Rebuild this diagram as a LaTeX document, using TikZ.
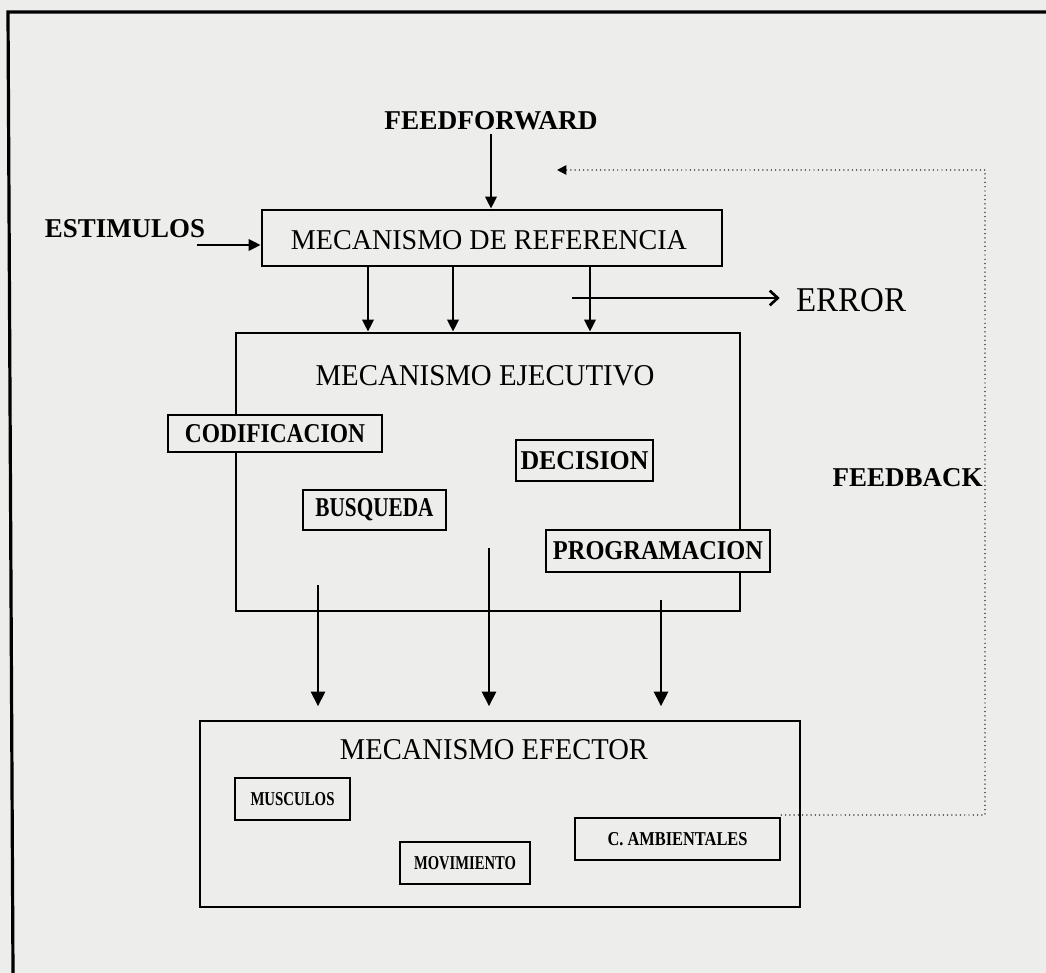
\documentclass[tikz,border=0pt]{standalone}
\usepackage{fontspec}
\setmainfont{Liberation Serif}
\usetikzlibrary{arrows.meta}
\newlength\px
\setlength\px{0.75pt}
% label squeezed to a given width and cap height (in px units)
\newcommand\lbl[3]{\resizebox{#1\px}{#2\px}{#3}}
\definecolor{paper}{RGB}{237,237,235}
\begin{document}
\begin{tikzpicture}[x=0.75pt,y=-0.75pt,
  box/.style={draw, line width=2.1pt, inner sep=0pt, fill=paper},
  sbox/.style={draw, line width=1.9pt, inner sep=0pt, fill=paper},
  txt/.style={inner sep=0pt},
  arr/.style={line width=2pt, -{Triangle[length=9pt,width=8.5pt]}},
  bigarr/.style={line width=2pt, -{Triangle[length=11pt,width=10.5pt]}},
  fb/.style={line width=1.1pt, line cap=round, dash pattern=on 0pt off 3.2pt,
             -{Triangle[length=7pt,width=7pt]}}]
% paper and page frame
\fill[paper] (0,0) rectangle (1046,973);
\useasboundingbox (0,0) rectangle (1046,973);
\draw[line width=2.4pt] (1046,12) -- (8,12) -- (13,973);

% reference stage
\node[box, minimum width=460*0.75pt, minimum height=56*0.75pt] (ref) at (492,238) {};
\node[txt] (reft) at (489,240) {\lbl{396}{19}{MECANISMO DE REFERENCIA}};
\node[txt] (ff) at (491,121) {\lbl{213}{18}{\bfseries FEEDFORWARD}};
\node[txt] (est) at (125,229) {\lbl{160}{18}{\bfseries ESTIMULOS}};
\coordinate (estin) at (197,245);
\draw[arr] (ff.south) ++(0,4) -- (ref.north -| ff.south);
\draw[arr] (estin) -- (ref.west |- estin);

% executive stage
\node[box, minimum width=504*0.75pt, minimum height=278*0.75pt] (ejec) at (488,472) {};
\node[txt] (eject) at (485,376) {\lbl{339}{20}{MECANISMO EJECUTIVO}};
\node[sbox, minimum width=214*0.75pt, minimum height=37*0.75pt] (cod) at (275,433.5) {\lbl{180}{18}{\bfseries CODIFICACION}};
\node[sbox, minimum width=137*0.75pt, minimum height=41*0.75pt] (dec) at (584.5,460.5) {\lbl{128}{18}{\bfseries DECISION}};
\node[sbox, minimum width=143*0.75pt, minimum height=40*0.75pt] (bus) at (374.5,510) {\lbl{118}{18}{\bfseries BUSQUEDA}};
\node[sbox, minimum width=224*0.75pt, minimum height=42*0.75pt] (prog) at (658,551) {\lbl{210}{18}{\bfseries PROGRAMACION}};

\coordinate (r1) at (368,0);
\coordinate (r2) at (453,0);
\coordinate (r3) at (590,0);
\draw[arr] (ref.south -| r1) -- (ejec.north -| r1);
\draw[arr] (ref.south -| r2) -- (ejec.north -| r2);
\draw[arr] (ref.south -| r3) -- (ejec.north -| r3);

% error output
\node[txt] (err) at (851,300) {\lbl{110}{23}{ERROR}};
\coordinate (errin) at (572,298);
\draw[line width=2pt, -{Straight Barb[length=6pt,width=11pt,line width=2pt]}, shorten >=12pt] (errin) -- (err.west |- errin);

% effector stage
\node[box, minimum width=600*0.75pt, minimum height=186*0.75pt] (efe) at (500,814) {};
\node[txt] (efet) at (494,750) {\lbl{308}{20}{MECANISMO EFECTOR}};
\node[sbox, minimum width=115*0.75pt, minimum height=42*0.75pt] (mus) at (292.5,799) {\lbl{84}{13}{\bfseries MUSCULOS}};
\node[sbox, minimum width=130*0.75pt, minimum height=42*0.75pt] (mov) at (465,863) {\lbl{102}{13}{\bfseries MOVIMIENTO}};
\node[sbox, minimum width=205*0.75pt, minimum height=42*0.75pt] (amb) at (677.5,839) {\lbl{140}{13}{\bfseries C. AMBIENTALES}};

\coordinate (s1) at (318,585);
\coordinate (s2) at (489,548);
\coordinate (s3) at (661,600);
\draw[bigarr, shorten >=10pt] (s1) -- (efe.north -| s1);
\draw[bigarr, shorten >=10pt] (s2) -- (efe.north -| s2);
\draw[bigarr, shorten >=10pt] (s3) -- (efe.north -| s3);

% feedback loop
\coordinate (fb1) at (985,815);
\coordinate (fb2) at (985,170);
\coordinate (fb3) at (557,170);
\draw[fb] (amb.east |- fb1) -- (fb1) -- (fb2) -- (fb3);
\node[txt, anchor=east] (fbk) at (983,478) {\lbl{150}{18}{\bfseries FEEDBACK}};
\end{tikzpicture}
\end{document}
